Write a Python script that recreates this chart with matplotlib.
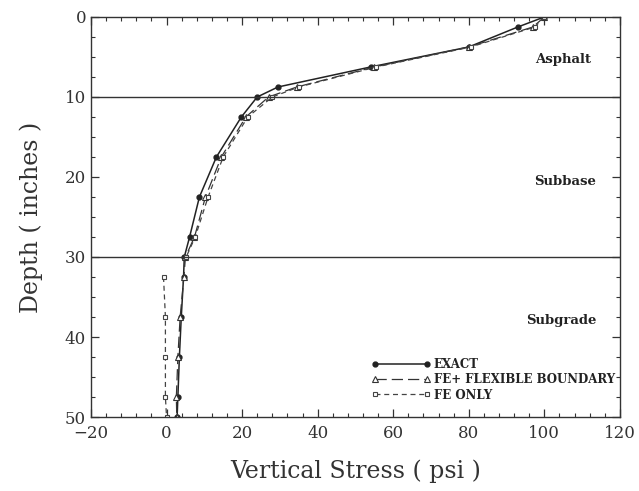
import matplotlib
matplotlib.use("Agg")
import matplotlib.pyplot as plt
from matplotlib.ticker import MultipleLocator

depth = [0, 1.25, 3.75, 6.25, 8.75, 10, 12.5, 17.5, 22.5, 27.5, 30, 32.5, 37.5, 42.5, 47.5, 50]
exact = [100, 93, 80, 54, 29.5, 24, 19.8, 13.2, 8.7, 6.1, 4.7, 4.5, 3.9, 3.4, 3.0, 2.8]
fe_flex = [100, 97, 80, 55, 34.5, 27, 21, 14.5, 10.3, 7.4, 5.0, 4.6, 3.6, 3.0, 2.6, 2.7]
fe_only_upper_depth = [0, 1.25, 3.75, 6.25, 8.75, 10, 12.5, 17.5, 22.5, 27.5, 30]
fe_only_upper = [100, 97.5, 80.5, 55.5, 35, 28, 21.5, 15, 11, 7.6, 5.2]
fe_only_lower_depth = [32.5, 37.5, 42.5, 47.5, 50]
fe_only_lower = [-0.8, -0.3, -0.3, -0.3, 0]
layer_bounds = [10, 30]
layer_names = ["Asphalt", "Subbase", "Subgrade"]
layer_label_pos = [(105, 5.3), (105.5, 20.6), (104.5, 37.9)]

serif = ["DejaVu Serif"]
fig = plt.figure(figsize=(6.39, 4.91), dpi=100)
ax = fig.add_axes([0.1424, 0.1507, 0.8276, 0.8147])

ax.plot(exact, depth, "-", color="#222222", lw=1.1, marker="o", ms=3.5,
        mfc="#222222", mec="#222222", label="EXACT")
ax.plot(fe_flex, depth, color="#333333", lw=0.9, ls=(0, (9, 4)), marker="^", ms=4,
        mfc="white", mec="#333333", mew=0.8, label="FE+ FLEXIBLE BOUNDARY")
ax.plot(fe_only_upper, fe_only_upper_depth, color="#444444", lw=0.9, ls=(0, (4, 3)),
        marker="s", ms=3.5, mfc="white", mec="#444444", mew=0.8, label="FE ONLY")
ax.plot(fe_only_lower, fe_only_lower_depth, color="#444444", lw=0.9, ls=(0, (4, 3)),
        marker="s", ms=3.5, mfc="white", mec="#444444", mew=0.8)

for b in layer_bounds:
    ax.axhline(b, color="#333333", lw=1.0)

for name, (x, y) in zip(layer_names, layer_label_pos):
    ax.text(x, y, name, ha="center", va="center", fontsize=9.5,
            family=serif, fontweight="bold", color="#222222")

ax.set_xlim(-20, 120)
ax.set_ylim(50, 0)
ax.xaxis.set_major_locator(MultipleLocator(20))
ax.xaxis.set_minor_locator(MultipleLocator(4))
ax.yaxis.set_major_locator(MultipleLocator(10))
ax.yaxis.set_minor_locator(MultipleLocator(2.5))
ax.tick_params(which="both", direction="in", top=True, right=True, labelsize=12,
               colors="#333333")
ax.tick_params(axis="x", which="major", pad=6)
ax.tick_params(which="major", length=6, width=0.9)
ax.tick_params(which="minor", length=3, width=0.8)
for lbl in ax.get_xticklabels() + ax.get_yticklabels():
    lbl.set_family(serif)
    lbl.set_color("#333333")
for s in ax.spines.values():
    s.set_linewidth(1.0)
    s.set_color("#333333")

ax.set_xlabel("Vertical Stress ( psi )", fontsize=17, family=serif, color="#333333",
              labelpad=12)
ax.set_ylabel("Depth ( inches )", fontsize=17, family=serif, color="#333333",
              labelpad=16)

leg = ax.legend(loc="lower left", bbox_to_anchor=(0.51, 0.012), frameon=False,
                numpoints=2, handlelength=5.0, handletextpad=0.3, labelspacing=0.2,
                prop={"family": serif, "size": 8.5, "weight": "bold"})
for t in leg.get_texts():
    t.set_color("#222222")

fig.savefig("out.png", dpi=100)
